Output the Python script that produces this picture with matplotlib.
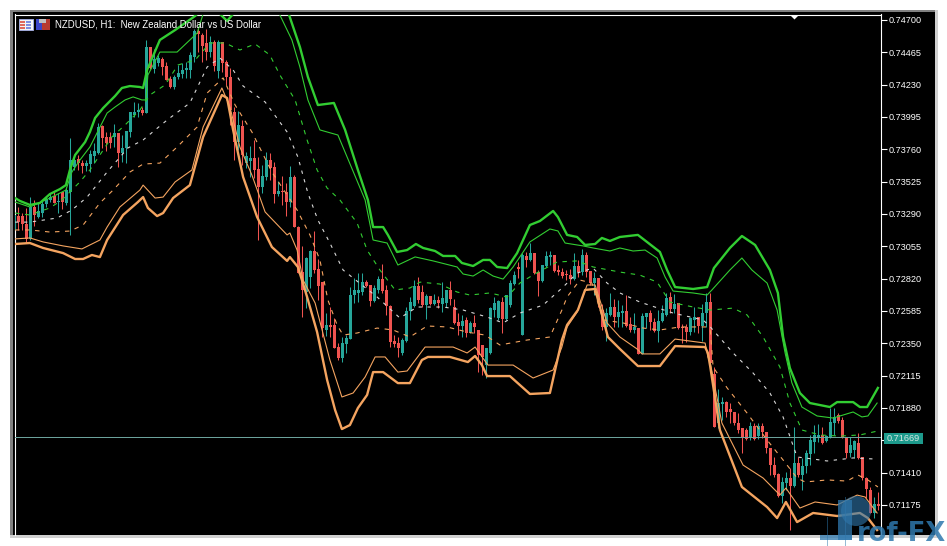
#!/usr/bin/env python3
# -*- coding: utf-8 -*-
# NZDUSD H1 candles with two sets of envelope bands, MT5 look

import numpy as np
import matplotlib
matplotlib.use('Agg')
import matplotlib.pyplot as plt
from matplotlib.patches import Rectangle, Polygon, Circle

plt.rcParams['font.family'] = ['Liberation Sans', 'DejaVu Sans']

#%%
# =============================================================================
# Data, prices in 1e-5 units
# =============================================================================

opens = [73174,73275,73275,73217,73109,73341,73268,73297,73363,73392,73420,73377,73449,73370,73449,73631,73689,73660,73638,73653,73711,73733,73929,73850,73850,73850,73879,73733,73770,73886,
74009,74031,74046,74024,74504,74344,74387,74416,74365,74271,74213,74286,74308,74337,74337,74431,74620,74591,74533,74467,74540,74329,74540,74394,74286,74031,73813,73929,73660,73675,
73697,73617,73486,73559,73682,73631,73435,73457,73449,73377,73559,73195,72868,72723,72832,73021,72890,72795,72447,72484,72484,72323,72243,72345,72381,72701,72716,72723,72795,72774,
72657,72738,72817,72738,72621,72367,72352,72280,72367,72585,72621,72766,72723,72628,72694,72636,72665,72636,72643,72738,72614,72505,72476,72520,72432,72498,72447,72338,72192,72280,
72592,72534,72650,72527,72628,72781,72905,72410,72985,72956,73006,72868,72803,72912,72978,72992,72883,72868,72854,72846,72817,72912,72868,72992,72876,72788,72825,72592,72469,72556,
72614,72541,72570,72585,72491,72447,72461,72273,72541,72570,72505,72440,72512,72556,72687,72599,72643,72469,72469,72432,72520,72541,72476,72570,72650,72127,71771,71909,71923,71873,
71850,71771,71735,71720,71669,71749,71676,71749,71706,71589,71465,71400,71240,71335,71371,71313,71480,71393,71458,71546,71633,71669,71684,71640,71669,71771,71829,71793,71669,71553,
71575,71625,71524,71371,71284,71117,71182]
highs = [73341,73341,73297,73334,73413,73392,73370,73392,73413,73442,73449,73442,73449,73486,73843,73711,73719,73682,73682,73755,73806,73951,73937,73886,73886,73944,73879,73864,73893,74031,
74104,74097,74068,74555,74504,74489,74445,74431,74394,74293,74300,74373,74387,74394,74467,74635,74642,74605,74635,74584,74555,74555,74540,74409,74351,74068,74039,73973,73741,73784,
73828,73704,73646,73741,73733,73667,73530,73566,73515,73638,73573,73202,73057,72977,73028,73167,72963,72795,72570,72614,72534,72352,72396,72410,72759,72825,72861,72861,72810,72774,
72774,72839,72927,72774,72628,72410,72396,72389,72614,72687,72810,72832,72774,72708,72694,72708,72694,72795,72738,72803,72672,72570,72556,72541,72512,72556,72447,72338,72316,72614,
72687,72665,72687,72701,72810,72876,72941,73006,73013,73079,73006,72883,72919,73021,73021,72992,72919,72897,72883,72890,73006,72956,73035,73013,72876,72868,72825,72636,72606,72716,
72672,72665,72628,72701,72541,72570,72461,72570,72570,72592,72534,72592,72628,72716,72723,72708,72643,72490,72490,72541,72614,72541,72636,72716,72716,72178,72018,71960,71931,71916,
71850,71843,71735,71735,71778,71771,71771,71771,71706,71589,71524,71407,71378,71414,71444,71742,71524,71517,71575,71684,71757,71764,71742,71684,71880,71880,71843,71814,71669,71669,
71647,71698,71524,71378,71306,71233,71269]
lows = [73159,73174,73174,73079,73101,73202,73261,73268,73341,73377,73370,73297,73326,73356,73138,73610,73610,73588,73603,73595,73660,73726,73770,73748,73770,73777,73631,73667,73660,73850,
73995,73995,74009,74024,74344,74315,74365,74300,74264,74206,74199,74271,74279,74279,74279,74394,74467,74394,74409,74431,74329,74279,74322,74228,73937,73682,73755,73646,73624,73559,
73552,73101,73442,73537,73537,73370,73420,73356,73275,73341,73195,72861,72541,72606,72752,72861,72665,72396,72403,72396,72316,72229,72214,72280,72381,72643,72650,72701,72759,72621,
72650,72716,72716,72556,72323,72323,72251,72265,72359,72520,72614,72643,72614,72527,72628,72628,72606,72577,72614,72628,72491,72410,72396,72396,72425,72425,72141,72119,72098,72273,
72541,72520,72425,72520,72614,72774,72825,72410,72905,72949,72854,72694,72795,72905,72919,72868,72846,72825,72810,72781,72810,72832,72846,72832,72774,72701,72614,72447,72367,72548,
72469,72469,72469,72469,72432,72425,72273,72273,72461,72447,72432,72359,72505,72548,72570,72570,72454,72352,72359,72410,72432,72425,72367,72469,72207,71742,71735,71793,71814,71771,
71757,71698,71553,71647,71647,71647,71655,71662,71553,71393,71378,71233,71189,71284,70993,71306,71378,71284,71407,71465,71553,71633,71618,71633,71662,71684,71771,71662,71517,71524,
71517,71509,71357,71226,71117,71080,71139]
closes = [73283,73231,73217,73109,73341,73283,73312,73363,73399,73413,73370,73385,73377,73464,73682,73682,73660,73638,73660,73726,73748,73922,73843,73806,73806,73879,73733,73770,73893,74031,
74031,74046,74024,74504,74351,74416,74424,74358,74264,74213,74286,74315,74337,74351,74445,74620,74598,74511,74467,74540,74365,74540,74387,74286,74046,73813,73937,73719,73711,73697,
73610,73486,73566,73682,73624,73435,73457,73449,73377,73559,73195,72861,72738,72970,73021,72883,72766,72461,72484,72469,72316,72243,72352,72389,72701,72738,72738,72795,72766,72657,
72752,72817,72730,72621,72359,72345,72316,72374,72585,72650,72766,72665,72628,72694,72636,72665,72643,72680,72738,72672,72498,72476,72512,72425,72498,72469,72265,72251,72316,72606,
72643,72657,72527,72701,72788,72846,72890,72992,72956,73006,72861,72803,72919,72985,72992,72876,72868,72839,72846,72817,72912,72868,72992,72868,72788,72825,72650,72469,72570,72614,
72541,72577,72585,72476,72447,72469,72273,72548,72570,72505,72440,72512,72570,72680,72599,72636,72461,72461,72432,72534,72541,72476,72570,72650,72207,71742,71916,71923,71850,71850,
71771,71720,71662,71655,71749,71655,71749,71706,71589,71465,71393,71240,71342,71371,71313,71480,71393,71458,71553,71647,71684,71684,71625,71676,71778,71815,71786,71662,71553,71611,
71640,71517,71371,71291,71117,71182,71167]

current_price = 71669
tick_prices = [74700,74465,74230,73995,73760,73525,73290,73055,72820,72585,72350,72115,71880,71645,71410,71175]
title = 'NZDUSD, H1:  New Zealand Dollar vs US Dollar'

# band vertices, bar number and price
upper2_bar = [0.2,1.4,3.9,6.4,8.9,11.4,12.9,13.9,15.2,17.7,18.9,20.2,22.2,25.2,26.9,28.9,31.4,32.2,33.2,36.4,40.2,45.2,47.7,49.7,51.4,53.2,54.7,55.9,58.9,65.2,68.7,71.4,73.4,75.9,79.9,82.7,85.9,88.4,89.7,92.2,93.4,95.7,98.2,100.4,102.2,105.2,107.2,110.2,111.9,114.7,117.2,118.9,120.7,123.2,125.7,128.9,131.4,134.7,135.9,138.2,140.7,142.7,145.2,146.9,148.9,151.4,155.9,161.4,163.2,165.2,169.7,173.2,174.9,178.9,181.9,185.2,188.9,190.9,192.2,193.9,196.4,198.9,203.9,205.7,209.7,211.4,213.2,215.9]
upper2_val = [73406,73385,73356,73370,73435,73471,73500,73610,73719,73813,73886,73988,74060,74148,74206,74220,74213,74206,74337,74555,74627,74729,74802,74787,74744,74693,74744,74809,74918,74918,74736,74504,74286,74082,74097,73901,73610,73392,73195,73195,73138,73014,73028,73072,73043,73021,72985,72985,72934,72912,72956,72956,72905,72897,73006,73210,73239,73312,73268,73138,73123,73065,73072,73116,73094,73123,73138,73014,72883,72759,72745,72759,72897,73043,73130,73065,72883,72716,72396,72170,71989,71916,71887,71923,71923,71887,71887,72026]
upper1_bar = [0.2,3.9,8.9,12.9,14.4,16.4,18.9,23.2,25.2,27.7,29.7,31.9,32.9,33.4,36.4,40.7,43.9,45.7,47.2,50.2,62.7,66.4,69.4,71.4,73.4,76.4,80.9,87.7,89.7,93.2,95.9,100.2,104.7,110.7,112.2,114.7,117.2,119.7,122.2,124.7,128.9,133.9,135.9,137.7,142.2,144.7,148.9,151.4,154.7,157.7,160.7,162.7,164.7,169.7,173.2,174.4,178.9,181.9,184.4,188.2,190.7,192.7,194.4,196.9,200.7,204.7,209.7,211.9,213.4,215.7]
upper1_val = [73377,73341,73406,73464,73595,73682,73777,74024,74068,74119,74141,74119,74119,74300,74467,74467,74555,74605,74744,74882,74882,74736,74555,74358,74119,73901,73864,73392,73101,73079,72919,72978,72949,72905,72854,72839,72883,72839,72817,72905,73087,73181,73167,73079,73058,73043,73021,73043,73021,73028,72970,72832,72730,72716,72701,72738,72883,72970,72883,72788,72592,72280,72062,71887,71822,71807,71851,71815,71822,71916]
upper0_bar = [0.2,3.9,8.9,11.9,16.4,18.9,21.4,24.4,27.7,31.4,33.9,37.7,40.9,45.2,48.9,52.7,56.4,60.2,63.9,66.4,70.2,73.2,75.7,78.2,81.4,85.7,88.2,91.4,95.2,98.9,101.4,106.4,110.7,113.9,118.9,123.2,126.4,129.7,135.7,140.7,144.7,151.4,156.4,160.7,163.9,169.7,174.0,179.7,183.2,187.2,191.4,193.9,196.9,201.4,206.4,211.4,215.9]
upper0_val = [73297,73283,73334,73392,73523,73610,73719,73850,73937,74046,74155,74228,74373,74409,74533,74533,74482,74526,74445,74300,74119,73828,73610,73479,73392,73225,73028,72883,72738,72752,72795,72781,72723,72701,72716,72687,72788,72847,72941,72949,72905,72868,72846,72795,72650,72614,72592,72606,72556,72396,72178,71916,71720,71684,71676,71684,71713]
mid_bar = [0.2,3.9,10.7,14.4,18.2,23.2,28.4,32.2,38.2,43.9,48.2,51.4,54.7,57.2,62.7,68.2,70.9,73.4,75.9,78.9,82.2,86.9,90.7,96.4,100.7,107.2,112.2,118.2,122.2,126.4,132.2,137.2,140.7,144.7,148.2,151.4,156.4,164.7,172.2,174.0,179.7,184.7,188.9,192.2,195.7,199.7,203.2,209.7,215.2]
mid_val = [73231,73231,73261,73319,73413,73595,73770,73828,73973,74097,74358,74424,74337,74220,74104,73886,73704,73442,73246,73079,72883,72774,72687,72534,72614,72614,72592,72541,72498,72570,72628,72759,72861,72897,72788,72716,72650,72570,72520,72469,72280,72134,71989,71814,71524,71509,71495,71517,71509]
lower0_bar = [0.2,3.9,8.9,13.9,17.2,21.4,24.7,28.9,32.2,36.4,40.7,45.7,48.2,52.2,55.2,59.4,64.4,70.7,73.9,76.4,78.4,80.7,82.2,85.7,90.7,94.7,98.9,103.2,108.2,113.2,117.7,121.4,128.2,133.9,136.9,138.2,141.4,144.4,147.2,152.2,157.2,161.4,166.4,173.2,174.0,174.7,178.2,183.2,188.2,192.2,195.7,197.7,203.2,208.2,210.9,213.4,215.9]
lower0_val = [73174,73174,73159,73166,73210,73370,73464,73595,73653,73660,73777,73922,74169,74279,74082,73886,73595,73319,73138,72956,72665,72483,72410,72425,72461,72447,72396,72476,72469,72432,72410,72338,72374,72396,72592,72687,72810,72788,72520,72498,72461,72447,72469,72469,72447,72178,72026,71843,71647,71502,71371,71342,71357,71349,71393,71357,71306]
lower1_bar = [0.2,3.9,7.2,12.2,16.9,21.4,23.2,26.4,31.4,32.2,35.2,37.2,40.2,44.4,47.2,51.9,53.9,56.4,59.4,62.7,68.2,68.9,70.7,72.2,75.2,78.9,81.9,84.7,87.7,90.2,92.7,95.9,98.2,102.7,109.7,113.2,115.2,118.4,124.7,129.7,134.7,136.9,138.2,140.7,143.2,145.2,148.2,151.4,155.7,156.9,161.4,165.2,172.7,173.4,174.0,176.9,182.2,187.2,191.4,192.9,196.4,200.2,205.7,210.7,212.7,215.7]
lower1_val = [73109,73116,73087,73058,73036,73101,73195,73341,73464,73500,73406,73413,73523,73610,73922,74206,74068,73777,73573,73305,73138,73152,73028,72810,72643,72229,71960,71989,72105,72251,72251,72141,72149,72323,72323,72280,72323,72192,72192,72098,72156,72323,72469,72577,72774,72774,72498,72396,72309,72273,72273,72381,72352,72251,72207,71771,71465,71371,71248,71298,71153,71197,71175,71247,71233,71117]
lower2_bar = [0.2,3.9,7.2,12.2,15.2,17.2,19.4,21.4,23.2,27.2,30.9,32.2,33.4,35.7,37.2,39.7,43.9,47.2,51.9,53.2,54.7,57.2,60.7,64.4,68.2,68.9,70.9,73.2,75.7,78.2,80.2,81.9,83.9,85.9,88.2,89.7,92.2,95.9,98.9,101.9,103.4,108.9,113.4,115.2,116.9,118.2,123.9,128.9,133.9,136.9,138.2,140.9,142.7,145.2,148.4,151.4,155.9,161.4,165.2,172.7,173.4,174.0,176.4,181.9,188.2,190.7,192.9,195.7,199.7,205.7,211.4,213.4,215.7]
lower2_val = [73072,73079,73043,73006,72963,72963,72992,72977,73101,73283,73377,73413,73334,73275,73297,73406,73500,73850,74155,74133,73901,73559,73268,73050,72949,72977,72905,72687,72432,72084,71865,71727,71756,71880,71975,72141,72141,72061,72061,72229,72251,72251,72214,72258,72192,72112,72112,71982,71989,72374,72484,72592,72738,72745,72396,72309,72185,72185,72330,72323,72280,72178,71720,71306,71160,71080,71197,71051,71117,71095,71117,71080,70993]

#%%
# =============================================================================
# Figure and layout
# =============================================================================

W, H = 947, 546
fig = plt.figure(figsize=(W/100, H/100), dpi=100, facecolor='white')

# window chrome goes in a full figure axes, in pixels
bg = fig.add_axes([0, 0, 1, 1], zorder=0)
bg.set_xlim(0, W)
bg.set_ylim(H, 0)
bg.axis('off')
bg.add_patch(Rectangle((10, 10), 928, 528, fc='#d0d0d0', lw=0))
bg.add_patch(Rectangle((10, 10), 925, 525, fc='#808080', lw=0))
bg.add_patch(Rectangle((13, 12), 922, 523, fc='black', lw=0))

ax = fig.add_axes([14.5/W, (H-535)/H, (881-14.5)/W, (535-14.5)/H], zorder=1)
ax.set_facecolor('black')
ax.patch.set_alpha(0)

SCALE = 0.00235/32.333
ax.set_ylim(0.747 - (535-20)*SCALE, 0.747 + (20-14.5)*SCALE)
ax.set_xlim((14.5-14.3)/4, (881-14.3)/4)

for side in ['top', 'left', 'right']:
    ax.spines[side].set_color('white')
    ax.spines[side].set_linewidth(0.8)
ax.spines['bottom'].set_visible(False)

ax.set_xticks([])
ax.yaxis.tick_right()
ax.set_yticks(np.array(tick_prices)/1e5)
# the 0.71645 label sits under the last price box, so it gets no text
ax.set_yticklabels(['' if t == 71645 else '%.5f' % (t/1e5) for t in tick_prices])
ax.tick_params(axis='y', colors='white', length=4, width=0.8, pad=1.5, labelsize=6.6)

#%%
# =============================================================================
# Candles and bands
# =============================================================================

TEAL = '#26a69a'
RED = '#ef5350'
GREEN = '#32cd32'
ORANGE = '#f4a460'

o = np.array(opens)/1e5
h = np.array(highs)/1e5
l = np.array(lows)/1e5
c = np.array(closes)/1e5
bars = np.arange(len(o))
cols = np.where(c >= o, TEAL, RED)

ax.vlines(bars, l, h, colors=cols, lw=0.75, zorder=2)
# doji bodies still need a pixel of height
body = np.maximum(np.abs(c-o), 0.00007)
ax.bar(bars, body, bottom=np.minimum(o, c), width=0.875, color=cols, lw=0, zorder=3)

ax.plot(upper2_bar, np.array(upper2_val)/1e5, color=GREEN, lw=1.7, zorder=5)
ax.plot(upper1_bar, np.array(upper1_val)/1e5, color=GREEN, lw=0.8, zorder=5)
ax.plot(upper0_bar, np.array(upper0_val)/1e5, color=GREEN, lw=0.8, ls=(0, (4, 5)), zorder=5)
ax.plot(mid_bar, np.array(mid_val)/1e5, color='#d8d8d8', lw=0.8, ls=(0, (3, 5)), zorder=5)
ax.plot(lower0_bar, np.array(lower0_val)/1e5, color=ORANGE, lw=0.8, ls=(0, (4, 5)), zorder=5)
ax.plot(lower1_bar, np.array(lower1_val)/1e5, color=ORANGE, lw=0.8, zorder=5)
ax.plot(lower2_bar, np.array(lower2_val)/1e5, color=ORANGE, lw=1.7, zorder=5)

# last price line and its label
ax.axhline(current_price/1e5, color='#6fa8a0', lw=0.7, zorder=4)

#%%
# =============================================================================
# Text, icons and watermark on top, again in pixels
# =============================================================================

top = fig.add_axes([0, 0, 1, 1], zorder=2)
top.set_xlim(0, W)
top.set_ylim(H, 0)
top.axis('off')
top.patch.set_alpha(0)

top.text(55, 24.5, title, color='white', fontsize=6.9, va='center', ha='left')

# chart window icons
top.add_patch(Rectangle((18.5, 18.5), 14, 11.5, fc='#f4f4f4', ec='#9fa8d8', lw=0.7))
for row in [21, 24, 27]:
    top.add_patch(Rectangle((20, row), 4.5, 2, fc='#e06a5a', lw=0))
    top.add_patch(Rectangle((25.5, row), 5.5, 2, fc='#7f8fe0', lw=0))
top.add_patch(Rectangle((35.5, 19), 7.5, 10.5, fc='#3a45c8', lw=0))
top.add_patch(Rectangle((42, 19), 7.5, 10.5, fc='#b83a30', lw=0))
top.add_patch(Rectangle((38.5, 18.5), 7, 4, fc='#c0c0c0', lw=0))

# shift marker
top.add_patch(Polygon([(790, 15), (799, 15), (794.5, 19.5)], fc='white', lw=0))

# last price label
top.add_patch(Rectangle((884, 433), 39, 10.5, fc='#1d9a8c', lw=0))
top.text(903.5, 438.2, '%.5f' % (current_price/1e5), color='#d8e8e4', fontsize=6.6,
         ha='center', va='center')

# Prof-FX logo
LOGO = '#2f78ad'
top.add_patch(Rectangle((838, 500), 14, 40, fc=LOGO, alpha=0.75, lw=0))
top.add_patch(Rectangle((820, 535), 32, 5, fc=LOGO, alpha=0.75, lw=0))
top.add_patch(Circle((856, 511), 15, fc=LOGO, alpha=0.6, lw=0))
top.add_patch(Rectangle((826.5, 517), 1, 29, fc=LOGO, alpha=0.5, lw=0))
top.add_patch(Rectangle((844.5, 497), 1, 49, fc=LOGO, alpha=0.5, lw=0))
top.text(857, 541, 'rof-FX', color=LOGO, alpha=0.85, fontsize=18.5, fontweight='bold',
         family='DejaVu Sans', ha='left', va='baseline')

plt.savefig('out.png', dpi=100, facecolor='white')
